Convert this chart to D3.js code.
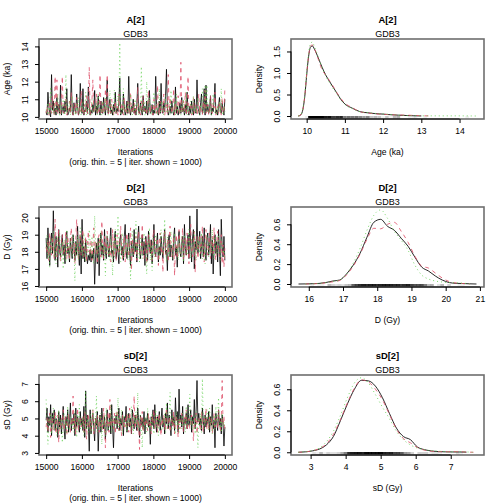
<!DOCTYPE html>
<html><head><meta charset="utf-8">
<script src="https://cdn.jsdelivr.net/npm/d3@7"></script>
<style>body{margin:0;background:#fff}svg{display:block;font-family:"Liberation Sans",Arial,Helvetica,sans-serif}</style>
</head><body><svg id="c" width="504" height="504"></svg>
<script>
// ---------------- DATA ----------------
const siteName = "GDB3";
const iterFirst = 15000, iterLast = 20000;
const iterXTicks = [15000, 16000, 17000, 18000, 19000, 20000];
const traceSubtitle = "(orig. thin. = 5 | iter. shown = 1000)";

// A[2] traces (Age, ka) – three chains
const A_chain1 = [10.3,10.1,11.4,10.6,10.2,10.0,12.4,10.4,10.9,10.2,10.5,10.1,11.1,10.3,10.7,10.2,11.8,10.1,10.4,10.6,10.2,10.9,10.3,11.6,10.1,10.2,10.5,10.3,12.4,10.3,10.1,10.8,10.4,10.2,11.3,10.6,10.1,10.3,11.9,10.5,10.2,11.6,10.1,10.4,10.3,10.9,10.2,11.7,10.6,10.1,10.4,10.2,10.7,10.3,11.5,10.1,10.6,10.2,11.2,10.4,10.1,10.9,10.3,10.2,11.1,10.5,10.1,10.8,12.1,10.2,10.6,11.0,10.2,10.4,10.1,10.7,10.3,11.4,10.2,10.5,10.3,10.8,12.2,10.1,10.4,10.2,11.3,10.6,10.1,10.3,10.9,10.2,12.3,10.4,10.1,10.6,10.3,11.0,10.2,10.5,10.1,10.7,11.9,10.3,10.2,10.8,10.4,10.1,11.2,10.3,10.6,10.2,10.9,10.1,10.4,11.5,10.2,10.3,10.7,10.1,10.4,10.2,12.3,10.6,10.3,10.1,10.9,10.2,11.9,10.4,10.2,10.8,10.3,11.3,12.7,10.5,10.1,10.3,10.6,10.2,10.9,10.4,10.1,10.3,11.7,10.2,10.6,10.1,10.4,10.8,10.2,11.1,10.3,10.5,10.1,10.7,10.2,11.4,10.3,10.1,10.6,10.2,10.9,10.4,10.1,11.0,10.3,10.2,12.1,10.5,10.3,10.1,10.8,11.3,10.2,10.4,11.6,10.1,11.8,10.3,10.7,10.2,10.4,11.2,10.1,10.5,10.3,10.9,11.9,10.2,10.4,10.1,10.6,11.1,10.3,10.2,10.8,10.4,10.1,11.0];
const A_chain2 = [10.2,10.6,10.3,10.1,10.9,10.4,10.2,11.2,10.5,10.1,12.3,10.3,12.1,10.2,10.7,10.4,10.1,10.8,12.3,10.3,10.2,10.5,11.0,10.1,10.4,10.3,10.9,10.2,11.4,10.6,10.1,10.3,10.8,10.2,11.1,10.4,10.1,10.6,10.3,11.5,10.2,10.4,10.1,10.7,10.3,11.2,10.2,10.5,12.8,10.1,10.4,10.9,12.1,10.3,10.2,10.6,11.3,10.1,10.4,10.2,12.4,10.5,10.1,10.8,10.3,10.2,11.6,10.4,12.4,10.1,10.3,10.7,10.2,11.0,10.5,10.1,10.4,10.9,10.2,10.6,10.1,11.3,10.3,10.2,10.8,10.4,10.1,11.1,10.3,10.5,10.2,10.9,10.4,10.1,11.4,10.3,10.6,10.2,10.8,10.1,10.5,10.3,11.7,10.2,10.4,10.1,10.9,10.3,11.2,10.6,10.2,10.4,10.1,10.8,11.5,10.3,10.2,10.7,10.4,10.1,11.0,10.3,10.6,10.2,11.8,10.4,10.1,10.9,10.3,10.2,10.5,11.3,10.1,10.4,10.7,10.2,12.4,10.3,11.1,10.6,10.2,10.4,11.6,10.1,10.8,10.3,10.2,11.2,10.5,10.1,13.1,10.4,10.2,10.9,10.3,11.4,10.1,10.6,12.3,10.2,10.4,10.8,10.1,10.3,11.1,10.2,10.5,10.7,10.1,10.4,11.3,10.2,10.6,10.3,10.1,10.9,10.4,11.5,10.2,10.3,10.7,10.1,10.4,11.2,10.3,10.2,10.8,10.5,11.4,10.1,10.3,10.6,10.2,10.9,10.4,10.1,11.1,10.3,10.2,11.6];
const A_chain3 = [10.4,10.2,10.8,10.1,10.5,11.7,10.3,10.2,10.6,10.1,10.9,10.3,10.2,11.3,10.4,10.1,10.7,10.2,10.5,11.0,10.3,10.1,12.4,10.2,10.6,10.4,10.9,10.1,10.3,11.2,10.5,10.2,10.4,10.1,10.8,10.3,11.1,10.2,10.6,10.1,10.4,10.9,10.2,10.3,11.4,10.1,10.5,10.2,10.7,10.3,10.1,11.0,10.4,10.2,10.6,10.3,10.8,10.1,11.3,10.4,10.2,10.5,10.1,10.9,10.3,10.2,11.1,10.4,10.6,10.1,10.3,11.5,10.2,10.7,10.4,10.1,11.5,10.3,10.2,10.8,11.2,10.4,14.2,10.1,10.5,10.3,11.6,10.2,10.7,10.4,10.1,10.9,10.3,10.2,11.3,10.5,10.1,10.6,10.3,11.0,10.2,10.4,10.8,10.1,10.6,10.3,12.85,10.2,10.5,10.9,10.1,10.4,12.0,10.3,10.2,11.1,10.6,10.1,10.4,10.8,11.4,10.2,10.3,10.7,10.1,10.5,11.6,10.2,10.4,10.9,10.3,10.1,10.6,11.2,10.4,10.2,10.8,10.3,10.1,11.5,10.5,10.2,10.4,10.9,10.1,11.3,10.3,10.6,10.2,10.4,10.1,10.8,10.3,11.0,10.2,10.5,11.4,10.1,10.7,10.3,10.2,10.9,10.4,10.1,11.2,10.3,10.6,10.2,10.5,11.1,10.3,10.1,10.7,10.4,11.6,10.2,10.5,11.8,10.3,11.8,10.4,10.2,11.0,10.6,10.1,10.8,11.3,10.3,10.2,10.5,10.1,10.7,10.3,10.9,10.2,11.6,10.4,10.1,10.6,10.3];

// D[2] traces (Gy)
const D_chain1 = [18.8,17.6,19.4,18.1,17.2,18.6,19.1,17.9,20.4,18.3,17.5,18.9,18.2,17.1,19.3,18.0,17.7,18.5,19.0,17.8,18.4,17.3,18.7,19.2,17.9,18.2,17.4,18.8,18.1,17.6,19.0,18.3,17.5,18.6,17.8,19.5,18.0,17.2,18.9,16.7,19.9,17.6,18.3,17.4,18.7,17.9,17.3,17.8,17.5,18.1,17.4,17.9,17.6,18.2,16.1,17.7,18.5,17.3,18.8,16.6,18.2,19.1,17.8,18.4,17.5,19.3,18.0,17.6,18.9,18.3,17.7,18.6,19.4,17.9,18.1,17.4,18.8,19.2,17.6,18.4,18.0,17.3,18.7,19.0,17.8,18.3,17.5,18.9,19.6,18.1,17.6,18.4,19.1,17.9,17.2,18.6,18.2,17.7,19.3,18.0,18.5,17.4,18.8,19.5,18.1,17.6,18.3,19.0,17.8,18.6,17.2,18.9,18.2,17.5,19.2,18.4,17.9,18.7,17.3,18.1,19.6,18.0,17.7,18.5,19.1,17.4,18.3,17.8,18.9,18.2,17.6,18.7,19.3,17.9,18.1,16.9,18.6,19.0,17.7,18.4,18.2,17.5,18.8,19.4,17.8,18.3,17.1,18.6,19.2,18.0,17.7,18.5,18.9,17.3,19.6,18.2,17.8,18.4,19.0,17.6,20.1,18.3,17.4,18.8,19.3,17.0,18.6,18.1,20.5,17.9,18.5,19.2,17.6,18.3,18.9,17.7,19.4,18.0,17.5,18.8,19.1,17.8,18.4,19.6,17.3,18.7,16.7,18.2,19.0,17.9,18.6,17.4,19.3,18.1,16.6,19.9,18.3,17.7,18.9,17.5];
const D_chain2 = [18.3,17.9,18.7,17.5,19.1,18.4,17.8,18.9,18.2,17.6,19.9,18.5,17.7,18.8,19.3,18.0,17.4,18.6,19.0,18.1,17.8,18.4,19.2,17.6,18.9,18.3,17.5,18.7,19.4,18.0,17.9,18.5,17.3,18.8,19.9,18.2,17.6,18.4,19.1,17.8,18.6,19.3,17.7,18.1,18.9,17.4,18.5,19.2,18.0,17.8,18.7,17.5,18.3,19.4,17.9,18.6,18.1,17.3,18.8,19.0,18.2,17.7,19.8,18.4,17.6,18.9,18.3,17.9,19.2,18.5,17.8,18.6,17.4,18.1,19.3,17.7,18.8,18.2,17.5,19.0,18.4,17.9,18.7,19.5,18.0,17.6,18.3,18.9,17.4,18.6,19.1,18.2,17.7,18.5,19.4,16.9,18.8,18.1,17.8,18.4,18.9,17.5,18.6,19.2,18.3,17.8,18.0,19.6,18.4,17.6,18.2,18.8,17.3,18.5,19.0,17.9,18.7,18.1,17.5,18.9,19.3,18.0,17.7,18.4,18.8,17.2,18.6,19.1,17.9,18.3,16.8,18.5,19.2,17.8,18.1,18.7,17.4,18.9,19.5,18.2,17.7,18.4,18.9,16.6,18.3,19.0,17.6,18.5,19.3,18.0,17.9,18.6,19.4,17.5,18.2,18.8,17.8,19.1,18.4,17.3,18.7,19.6,18.0,17.7,18.5,19.2,16.8,18.3,18.9,17.6,18.4,19.0,17.9,18.6,19.5,18.1,17.4,18.8,19.3,18.2,17.8,18.5,19.1,17.6,18.3,18.9,17.9,19.4,18.0,17.5,18.7,19.2,18.1,17.7,18.6,19.0,17.3,18.4,17.1,18.2];
const D_chain3 = [18.2,19.0,17.6,18.5,17.1,18.8,17.9,18.3,19.2,17.7,18.4,17.3,18.9,18.1,17.8,19.1,18.0,17.5,18.6,17.0,18.7,18.2,17.4,19.3,17.9,18.5,17.6,18.8,18.1,17.7,19.0,18.3,16.3,18.6,17.8,18.9,17.5,18.2,19.4,17.9,18.4,17.6,19.1,18.0,17.4,18.7,18.2,17.8,19.3,18.5,17.7,18.9,18.1,17.3,20.1,18.4,17.9,18.6,17.5,18.8,18.2,19.2,17.6,18.5,17.9,18.3,16.6,18.7,19.0,17.8,18.4,17.5,18.9,18.1,16.6,18.6,17.7,19.3,18.0,18.3,20.1,17.8,18.5,17.4,18.8,19.1,17.6,18.2,17.9,18.7,18.3,17.5,18.9,18.0,16.4,18.6,19.2,17.8,18.4,18.1,19.8,17.7,18.5,18.2,17.4,18.9,18.0,17.6,18.7,19.1,18.3,17.8,16.7,18.6,18.1,19.4,17.5,18.4,16.9,18.8,18.2,17.7,19.0,18.5,17.9,18.3,17.6,18.8,19.3,18.0,17.8,18.6,19.9,18.2,17.4,18.9,18.1,17.7,18.5,19.2,18.0,17.6,18.7,19.1,18.3,17.9,18.4,17.5,18.8,18.2,17.7,18.9,18.3,17.4,19.0,18.6,18.1,17.8,18.5,19.3,18.2,17.6,18.8,18.0,17.9,19.2,18.4,17.5,18.7,18.1,18.9,17.8,18.3,19.1,17.6,18.5,18.0,17.3,18.8,19.0,18.2,17.7,18.6,18.4,17.9,19.3,18.1,17.6,18.9,18.3,17.8,18.5,19.0,18.2,17.5,18.7,18.4,17.9,18.1,17.6];

// sD[2] traces (Gy)
const sD_chain1 = [4.9,5.6,4.2,5.1,4.6,5.8,4.0,5.3,4.7,5.5,4.3,5.0,4.8,3.9,5.4,4.5,5.2,4.1,4.9,5.7,4.4,3.8,5.1,4.6,5.5,4.2,4.8,5.9,4.3,5.0,4.7,5.3,4.0,5.6,4.5,5.1,4.8,4.2,5.4,4.6,5.0,4.3,5.7,3.9,6.6,4.4,5.2,4.7,3.1,5.5,4.1,4.9,5.3,4.5,3.7,5.0,4.6,5.4,3.1,4.8,5.2,4.2,5.6,4.9,4.4,5.1,3.8,4.7,5.5,4.3,4.6,5.3,4.1,5.8,4.5,3.3,5.0,4.7,5.2,4.4,4.9,5.6,4.3,5.0,4.6,5.4,4.0,5.1,4.8,5.7,4.2,4.9,5.3,4.5,5.0,4.1,5.5,4.7,4.4,5.2,4.8,4.3,5.6,4.9,3.9,5.2,4.6,5.0,4.4,5.4,4.1,5.0,4.7,5.3,4.5,4.9,3.5,5.1,4.6,5.5,4.4,5.8,4.8,4.2,5.1,4.6,5.4,4.3,4.9,5.6,4.5,5.0,4.1,5.3,4.7,5.9,4.4,5.2,4.8,4.0,5.5,4.6,5.1,4.3,6.2,4.9,5.4,4.2,6.7,4.8,5.2,4.5,5.7,4.1,5.0,4.7,5.3,4.4,5.8,4.6,4.9,5.5,4.2,5.1,4.7,6.1,4.4,5.4,7.2,4.8,5.3,4.6,5.0,4.3,5.6,4.9,4.1,5.2,4.5,5.0,4.7,5.4,4.2,5.1,4.6,5.8,4.4,4.9,3.3,5.3,4.8,4.3,5.5,4.6,5.0,4.1,5.2,4.7,3.4,4.5];
const sD_chain2 = [4.5,5.0,4.2,4.8,5.3,3.9,4.6,5.1,4.3,4.9,5.4,4.1,4.7,5.2,3.6,4.8,4.4,5.0,4.6,5.5,4.3,4.9,5.1,4.0,4.7,5.3,4.5,4.2,5.0,4.6,6.3,4.4,5.2,4.1,4.8,5.6,4.3,4.9,5.0,4.5,4.7,5.1,4.2,5.4,4.6,3.8,4.9,5.3,4.4,5.0,4.3,4.8,5.5,4.1,4.6,5.0,4.4,5.2,4.7,4.2,5.1,4.5,4.9,4.3,5.6,4.7,3.3,5.0,4.6,5.4,4.2,6.1,4.5,4.8,5.0,4.4,5.3,4.1,4.9,5.5,4.6,4.3,5.1,4.7,4.0,5.2,4.8,4.4,5.0,4.5,5.3,4.9,4.2,5.6,4.6,4.1,5.0,4.7,6.3,4.4,4.8,5.2,4.3,4.9,3.2,5.1,4.6,5.4,4.2,4.8,4.5,5.0,4.7,4.3,5.3,4.6,4.9,4.1,5.2,4.7,5.5,4.4,4.8,5.1,4.2,4.9,5.3,4.5,4.0,5.0,4.6,5.2,4.3,4.9,5.6,4.4,4.8,5.1,4.2,4.7,5.0,4.5,5.4,4.1,4.8,5.2,4.6,3.9,5.0,4.4,4.9,5.3,4.6,4.2,5.1,4.7,5.5,4.3,4.8,5.0,4.4,4.9,5.2,4.6,3.7,5.0,4.5,5.3,4.1,4.8,5.1,4.6,4.3,5.4,4.8,4.2,5.0,4.7,5.6,4.4,4.9,4.3,5.2,4.6,5.0,4.1,4.7,5.3,4.5,4.8,5.0,4.4,5.5,4.7,4.2,4.9,7.2,4.6,5.1,4.3];
const sD_chain3 = [6.1,4.4,3.5,5.0,4.7,5.3,4.1,4.8,5.6,4.3,4.9,5.2,4.0,4.6,5.5,4.2,4.8,5.0,3.6,4.7,5.3,4.5,4.9,4.1,5.7,4.6,4.3,5.1,4.8,4.4,5.0,4.2,5.4,4.7,3.9,5.2,4.6,5.8,4.3,4.9,4.5,5.1,4.0,4.8,6.6,4.4,5.0,4.2,4.7,5.3,4.1,4.9,5.5,4.3,5.0,4.6,6.3,4.2,4.8,5.1,4.4,5.3,3.5,4.9,4.6,5.2,4.0,5.6,4.7,4.3,5.0,4.5,5.8,4.2,4.9,5.1,4.4,4.8,5.4,4.6,6.2,4.3,5.0,4.7,5.5,4.1,4.9,5.2,4.5,4.8,4.2,5.3,4.6,5.0,4.4,5.7,4.8,4.1,5.1,4.7,5.4,4.5,6.5,4.3,4.9,5.2,4.6,3.3,5.0,4.4,4.8,5.1,4.2,5.6,4.7,4.4,5.0,4.3,5.3,4.6,4.1,4.9,5.5,4.5,5.2,4.0,4.8,5.1,4.6,4.3,5.0,4.7,5.3,4.2,5.9,4.6,4.4,5.0,6.5,4.8,4.3,5.2,4.7,5.0,4.1,5.4,4.6,4.9,4.2,5.1,4.8,4.4,5.3,4.6,5.0,4.2,5.7,4.7,4.5,5.2,6.4,4.6,4.9,4.3,5.1,4.7,4.1,5.4,4.5,3.3,5.0,4.6,5.3,4.2,7.3,4.8,4.4,5.1,4.7,5.5,4.9,4.3,5.6,4.6,5.0,4.1,4.8,5.2,4.4,5.7,4.7,5.0,6.2,4.5,4.9,4.2,5.3,4.6,4.8,4.4];

// Density curves (x grid + density per chain; null = outside that chain's estimate)
const A_densX = [9.78,9.85,9.9,9.95,10.0,10.05,10.1,10.15,10.2,10.3,10.4,10.5,10.6,10.7,10.8,10.9,11.0,11.2,11.4,11.6,11.8,12.0,12.2,12.4,12.6,12.8,13.0,13.2,13.5,13.8,14.1,14.45];
const A_dens1 = [0,0.03,0.15,0.45,0.95,1.38,1.60,1.63,1.56,1.36,1.14,0.95,0.80,0.66,0.52,0.38,0.28,0.18,0.10,0.075,0.055,0.045,0.03,0.02,0.012,0.007,0.002,null,null,null,null,null];
const A_dens2 = [0,0.03,0.15,0.46,0.97,1.40,1.63,1.65,1.57,1.33,1.08,0.95,0.82,0.68,0.53,0.40,0.30,0.19,0.10,0.07,0.05,0.04,0.03,0.025,0.02,0.015,0.008,0.003,null,null,null,null];
const A_dens3 = [0,0.04,0.17,0.50,1.02,1.45,1.68,1.72,1.62,1.38,1.14,0.93,0.77,0.63,0.50,0.37,0.27,0.17,0.10,0.08,0.06,0.05,0.035,0.02,0.012,0.008,0.006,0.005,0.004,0.004,0.004,0.0];
const D_densX = [15.7,15.9,16.1,16.3,16.5,16.7,16.9,17.1,17.3,17.5,17.7,17.9,18.1,18.3,18.5,18.7,18.9,19.1,19.3,19.5,19.7,19.9,20.1,20.3,20.5,20.7,20.9];
const D_dens1 = [0.0,0.001,0.003,0.006,0.015,0.03,0.04,0.1,0.19,0.31,0.47,0.62,0.65,0.58,0.54,0.46,0.38,0.27,0.17,0.13,0.08,0.04,0.015,0.007,0.005,0.002,0.0];
const D_dens2 = [null,0.0,0.002,0.005,0.012,0.022,0.035,0.09,0.18,0.30,0.45,0.56,0.555,0.60,0.62,0.53,0.42,0.28,0.18,0.16,0.11,0.06,0.025,0.01,0.005,0.001,null];
const D_dens3 = [null,0.0,0.002,0.006,0.014,0.025,0.04,0.10,0.21,0.36,0.54,0.69,0.745,0.66,0.53,0.44,0.34,0.19,0.09,0.05,0.03,0.02,0.015,0.012,0.008,0.002,null];
const sD_densX = [2.65,2.85,3.05,3.25,3.45,3.65,3.85,4.05,4.25,4.45,4.65,4.85,5.05,5.25,5.45,5.65,5.85,6.05,6.25,6.45,6.65,6.85,7.05,7.25,7.45,7.65];
const sD_dens1 = [0.0,0.004,0.013,0.03,0.07,0.15,0.30,0.46,0.60,0.685,0.68,0.63,0.52,0.37,0.23,0.15,0.12,0.05,0.025,0.012,0.006,0.004,0.003,0.003,0.001,null];
const sD_dens2 = [0.0,0.004,0.014,0.035,0.08,0.17,0.31,0.47,0.61,0.69,0.67,0.60,0.50,0.36,0.22,0.13,0.09,0.045,0.02,0.01,0.006,0.005,0.006,0.006,0.002,0.0];
const sD_dens3 = [0.0,0.005,0.016,0.04,0.10,0.20,0.35,0.52,0.66,0.71,0.66,0.55,0.43,0.32,0.20,0.12,0.07,0.04,0.025,0.015,0.01,0.006,0.004,0.005,0.003,0.0];

// Tick labels
const A_traceYTicks = [10, 11, 12, 13, 14];
const D_traceYTicks = [16, 17, 18, 19, 20];
const sD_traceYTicks = [3, 4, 5, 6, 7];
const A_densXTicks = [10, 11, 12, 13, 14];
const D_densXTicks = [16, 17, 18, 19, 20, 21];
const sD_densXTicks = [3, 4, 5, 6, 7];
const A_densYTicks = [0, 0.5, 1.0, 1.5];
const D_densYTicks = [0, 0.2, 0.4, 0.6];
const sD_densYTicks = [0, 0.2, 0.4, 0.6];

// ---------------- STYLE / LAYOUT ----------------
const W = 504, PW = 252, PH = 168;
const BOX = {l: 39, r: 232, t: 39, b: 119};
const chainColors = ["#000000", "#DF536B", "#61D04F"];
const chainDash = [null, "4,4", "1,3"];
const chainOpacity = 0.8;
const FS = 8.6;

const svg = d3.select("#c");
svg.append("rect").attr("width", W).attr("height", W).attr("fill", "#fff");

function makePanel(col, row) {
  return svg.append("g").attr("transform", `translate(${col * PW},${row * PH})`);
}

function decorate(g, x, y, xTicks, yTicks, yFmt, title, xLab, yLab, sub) {
  // box
  g.append("rect").attr("x", BOX.l).attr("y", BOX.t)
    .attr("width", BOX.r - BOX.l).attr("height", BOX.b - BOX.t)
    .attr("fill", "none").attr("stroke", "#6e6e6e").attr("stroke-width", 1.6);
  // x axis
  const gx = g.append("g").attr("transform", `translate(0,${BOX.b})`)
    .call(d3.axisBottom(x).tickValues(xTicks).tickSize(4).tickFormat(d3.format("d")));
  gx.select(".domain").remove();
  gx.append("line").attr("x1", x(xTicks[0])).attr("x2", x(xTicks[xTicks.length - 1]))
    .attr("stroke", "#000").attr("stroke-width", 1);
  gx.selectAll(".tick line").attr("stroke", "#000");
  gx.selectAll("text").attr("font-size", FS).attr("font-family", "Liberation Sans, Arial, sans-serif")
    .attr("fill", "#000").attr("dy", null).attr("y", 14.5);
  // y axis
  const gy = g.append("g").attr("transform", `translate(${BOX.l},0)`)
    .call(d3.axisLeft(y).tickValues(yTicks).tickSize(4).tickFormat(yFmt));
  gy.select(".domain").remove();
  gy.append("line").attr("y1", y(yTicks[0])).attr("y2", y(yTicks[yTicks.length - 1]))
    .attr("stroke", "#000").attr("stroke-width", 1);
  gy.selectAll(".tick line").attr("stroke", "#000");
  gy.selectAll("text").attr("font-size", FS).attr("font-family", "Liberation Sans, Arial, sans-serif")
    .attr("fill", "#000").attr("x", 0).attr("dy", null).attr("text-anchor", "middle")
    .attr("transform", "translate(-11,0) rotate(-90)");
  // titles
  const cx = (BOX.l + BOX.r) / 2;
  g.append("text").attr("x", cx).attr("y", 22.5).attr("text-anchor", "middle")
    .attr("font-size", 9.4).attr("font-weight", "bold").text(title);
  g.append("text").attr("x", cx).attr("y", 37).attr("text-anchor", "middle")
    .attr("font-size", 9).text(siteName);
  g.append("text").attr("x", cx).attr("y", 155).attr("text-anchor", "middle")
    .attr("font-size", FS).text(xLab);
  if (sub) {
    g.append("text").attr("x", cx).attr("y", 164.5).attr("text-anchor", "middle")
      .attr("font-size", FS).text(sub);
  }
  g.append("text").attr("transform", `translate(10,${(BOX.t + BOX.b) / 2}) rotate(-90)`)
    .attr("text-anchor", "middle").attr("font-size", FS).text(yLab);
}

function tracePanel(col, row, chains, yDomain, yTicks, title, yLab) {
  const g = makePanel(col, row);
  const x = d3.scaleLinear().domain([14800, 20200]).range([BOX.l, BOX.r]);
  const y = d3.scaleLinear().domain(yDomain).range([BOX.b, BOX.t]);
  const n = chains[0].length;
  const iter = d3.scaleLinear().domain([0, n - 1]).range([iterFirst, iterLast]);
  const line = d3.line().x((d, i) => x(iter(i))).y(d => y(d));
  const plot = g.append("g");
  chains.forEach((c, k) => {
    plot.append("path").datum(c).attr("d", line).attr("fill", "none")
      .attr("stroke", chainColors[k]).attr("stroke-width", 1)
      .attr("stroke-opacity", chainOpacity)
      .attr("stroke-dasharray", chainDash[k]);
  });
  decorate(g, x, y, iterXTicks, yTicks, d3.format("d"), title, "Iterations", yLab, traceSubtitle);
}

function densPanel(col, row, gridX, dens, rugVals, xDomain, yDomain, xTicks, yTicks, title, xLab) {
  const g = makePanel(col, row);
  const x = d3.scaleLinear().domain(xDomain).range([BOX.l, BOX.r]);
  const y = d3.scaleLinear().domain(yDomain).range([BOX.b, BOX.t]);
  const line = d3.line().defined(d => d[1] != null)
    .x(d => x(d[0])).y(d => y(d[1])).curve(d3.curveMonotoneX);
  // rug
  g.append("g").selectAll("line").data(rugVals).join("line")
    .attr("x1", d => x(d)).attr("x2", d => x(d))
    .attr("y1", BOX.b).attr("y2", BOX.b - 3)
    .attr("stroke", "#000").attr("stroke-opacity", 0.06).attr("stroke-width", 3.6);
  dens.forEach((dv, k) => {
    const pts = gridX.map((xv, i) => [xv, dv[i]]);
    g.append("path").datum(pts).attr("d", line).attr("fill", "none")
      .attr("stroke", chainColors[k]).attr("stroke-width", 1)
      .attr("stroke-opacity", 0.85)
      .attr("stroke-dasharray", chainDash[k]);
  });
  decorate(g, x, y, xTicks, yTicks, d3.format(".1f"), title, xLab, "Density", null);
}

tracePanel(0, 0, [A_chain1, A_chain2, A_chain3], [9.88, 14.42], A_traceYTicks, "A[2]", "Age (ka)");
densPanel(1, 0, A_densX, [A_dens1, A_dens2, A_dens3], A_chain1.concat(A_chain2, A_chain3),
  [9.59, 14.64], [-0.069, 1.79], A_densXTicks, A_densYTicks, "A[2]", "Age (ka)");
tracePanel(0, 1, [D_chain1, D_chain2, D_chain3], [15.94, 20.62], D_traceYTicks, "D[2]", "D (Gy)");
densPanel(1, 1, D_densX, [D_dens1, D_dens2, D_dens3], D_chain1.concat(D_chain2, D_chain3),
  [15.48, 21.12], [-0.030, 0.774], D_densXTicks, D_densYTicks, "D[2]", "D (Gy)");
tracePanel(0, 2, [sD_chain1, sD_chain2, sD_chain3], [2.88, 7.52], sD_traceYTicks, "sD[2]", "sD (Gy)");
densPanel(1, 2, sD_densX, [sD_dens1, sD_dens2, sD_dens3], sD_chain1.concat(sD_chain2, sD_chain3),
  [2.44, 7.95], [-0.026, 0.736], sD_densXTicks, sD_densYTicks, "sD[2]", "sD (Gy)");
</script></body></html>
